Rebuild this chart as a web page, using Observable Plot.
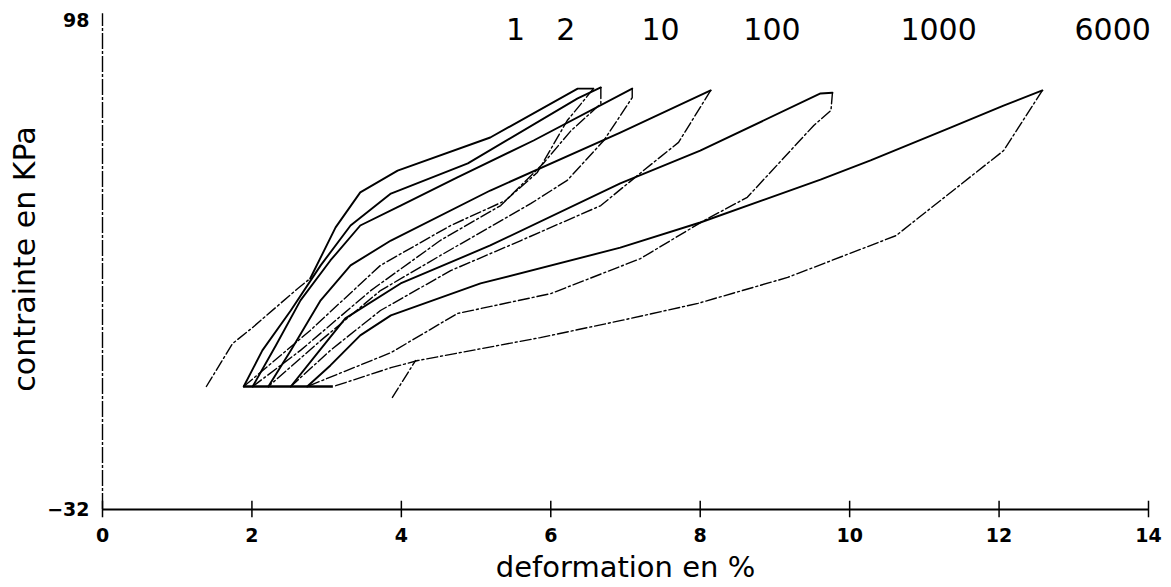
<!DOCTYPE html>
<html><head><meta charset="utf-8">
<script src="https://cdn.jsdelivr.net/npm/d3@7"></script>
<script src="https://cdn.jsdelivr.net/npm/@observablehq/plot@0.6"></script>
<style>html,body{margin:0;padding:0;background:#fff;overflow:hidden}</style>
</head><body><div id="chart"></div>
<script>
// Cycle labels (number of cycles) and their horizontal positions (deformation %)
const cycles = ["1", "2", "10", "100", "1000", "6000"];
const cycleLabelX = [5.53, 6.20, 7.47, 8.96, 11.19, 13.52];
const xTicks = [0, 2, 4, 6, 8, 10, 12, 14];
const yTicks = [-32, 98];

// [deformation %, contrainte kPa]
const virgin = [[1.39,0.7],[1.74,12.1],[2.01,16.4],[2.61,26.7],[2.78,29.4]];
const load1 = [[2.78,29.4],[3.12,43.0],[3.45,52.3],[3.95,58.1],[5.19,66.9],[6.36,79.9],[6.57,79.9]];
const unload1 = [[6.57,79.9],[6.44,76.7],[6.22,71.4],[5.82,57.6],[5.39,50.1],[4.66,43.5],[3.72,32.9],[2.78,15.6],[1.89,0.7]];
const load2 = [[1.89,0.7],[2.14,10.3],[2.52,20.9],[2.92,32.9],[3.32,43.5],[3.86,52.0],[4.89,60.0],[6.36,77.3],[6.67,80.2]];
const unload2 = [[6.67,80.2],[6.67,75.9],[6.27,68.7],[5.90,60.0],[5.33,48.8],[4.52,39.5],[3.59,26.2],[2.65,10.3],[2.01,0.7]];
const load10 = [[2.01,0.7],[2.32,11.6],[2.65,23.6],[3.05,34.2],[3.45,43.5],[3.99,48.8],[4.75,56.3],[5.77,66.1],[7.09,79.9]];
const unload10 = [[7.09,79.9],[7.09,77.5],[6.71,66.1],[6.22,55.5],[5.73,49.3],[4.52,35.5],[3.72,26.2],[2.92,12.9],[2.22,0.7]];
const load100 = [[2.22,0.7],[2.52,10.3],[2.92,23.6],[3.32,32.9],[3.86,39.5],[5.19,52.8],[6.93,68.2],[8.14,79.4]];
const unload100 = [[8.14,79.4],[7.71,65.6],[7.24,58.1],[6.67,48.8],[5.60,39.5],[4.66,31.5],[3.72,20.9],[3.05,10.3],[2.52,0.7]];
const load1000 = [[2.52,0.7],[2.85,8.9],[3.25,18.8],[3.99,28.1],[5.19,38.2],[6.93,54.7],[8.0,63.4],[9.61,78.6],[9.77,78.8]];
const unload1000 = [[9.77,78.8],[9.75,74.1],[9.52,70.1],[8.63,51.0],[8.05,44.8],[7.20,34.7],[6.0,25.4],[4.75,20.1],[3.86,9.7],[2.74,0.7]];
const load6000 = [[2.74,0.7],[3.05,6.3],[3.45,14.3],[3.86,19.6],[5.06,28.1],[6.93,37.6],[8.0,44.3],[9.61,55.7],[10.28,60.8],[11.35,69.5],[12.06,75.4],[12.58,79.4]];
const unload6000 = [[12.58,79.4],[12.06,63.4],[10.62,40.8],[9.17,29.7],[7.97,22.8],[6.93,18.2],[5.86,13.7],[4.22,7.6],[3.86,5.7],[3.09,0.7]];
const reload = [[3.88,-2.2],[4.19,7.6]];

const toRows = (id, pts) => pts.map(([x, y]) => ({id, x, y}));
const loadRows = [
  ...toRows("1", load1), ...toRows("2", load2), ...toRows("10", load10),
  ...toRows("100", load100), ...toRows("1000", load1000), ...toRows("6000", load6000)
];
const unloadRows = [
  ...toRows("v", virgin), ...toRows("r", reload),
  ...toRows("1", unload1), ...toRows("2", unload2), ...toRows("10", unload10),
  ...toRows("100", unload100), ...toRows("1000", unload1000), ...toRows("6000", unload6000)
];
const starts = [load2, load10, load100, load1000, load6000].map(a => a[0][0]);
const baseY = load2[0][1];
const baseX1 = d3.min(starts), baseX2 = unload6000[unload6000.length - 1][0];
const fmt = d => d < 0 ? "\u2212" + Math.abs(d) : String(d);

const chart = Plot.plot({
  width: 1171, height: 587,
  marginLeft: 102, marginRight: 23, marginTop: 20, marginBottom: 78,
  x: {domain: [0, 14], axis: null},
  y: {domain: [-32, 98], axis: null},
  style: {fontFamily: "DejaVu Sans", background: "white", color: "black"},
  marks: [
    Plot.ruleX([0], {y1: -32, y2: 99.8, stroke: "black", strokeWidth: 1.4, strokeDasharray: "16,2,3,2"}),
    Plot.ruleY([-32], {x1: 0, x2: 14, stroke: "black", strokeWidth: 2}),
    Plot.ruleX(xTicks, {y1: -34.2, y2: -29.8, stroke: "black", strokeWidth: 1.5}),
    Plot.text(xTicks, {x: d => d, text: fmt, frameAnchor: "bottom", lineAnchor: "middle", dy: 26, fontSize: 19, fontWeight: "bold", fill: "black"}),
    Plot.text(yTicks, {y: d => d, text: fmt, frameAnchor: "left", textAnchor: "end", lineAnchor: "middle", dx: -13, fontSize: 19, fontWeight: "bold", fill: "black"}),
    Plot.ruleY([baseY], {x1: baseX1, x2: baseX2, stroke: "black", strokeWidth: 2.6}),
    Plot.line(unloadRows, {x: "x", y: "y", z: "id", stroke: "black", strokeWidth: 1.4, strokeDasharray: "11,3,2,3"}),
    Plot.line(loadRows, {x: "x", y: "y", z: "id", stroke: "black", strokeWidth: 1.9}),
    Plot.text(cycles, {x: (d, i) => cycleLabelX[i], text: d => d, frameAnchor: "top", lineAnchor: "middle", dy: 10, fontSize: 30, fill: "black"}),
    Plot.text(["deformation en %"], {text: d => d, frameAnchor: "bottom", lineAnchor: "middle", dy: 58, fontSize: 29, fill: "black"}),
    Plot.text(["contrainte en KPa"], {text: d => d, frameAnchor: "left", textAnchor: "middle", lineAnchor: "middle", dx: -77, dy: -6, rotate: -90, fontSize: 30, fill: "black"})
  ]
});
document.getElementById("chart").appendChild(chart);
</script>
</body></html>
